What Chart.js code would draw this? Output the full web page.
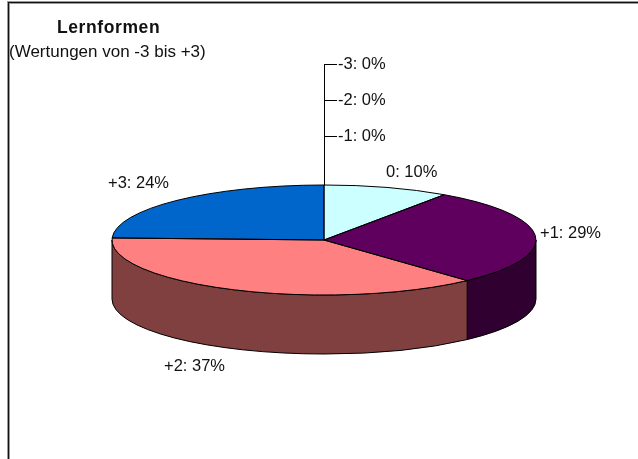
<!DOCTYPE html>
<html><head><meta charset="utf-8">
<style>html,body{margin:0;padding:0;background:#fff}canvas{display:block}</style>
<script src="https://cdn.jsdelivr.net/npm/chart.js@4/dist/chart.umd.min.js"></script>
</head><body>
<canvas id="c" width="638" height="459" style="width:638px;height:459px"></canvas>
<script>
const titleText = "Lernformen";
const subtitleText = "(Wertungen von -3 bis +3)";
const categories = ["-3", "-2", "-1", "0", "+1", "+2", "+3"];
const shares = [0, 0, 0, 9.6, 28.6, 37.4, 24.4];
const topColors = ["#000080", "#ff00ff", "#ffff00", "#ccffff", "#5f005f", "#ff8080", "#0066cc"];
const sideColors = ["#000040", "#800080", "#808000", "#668080", "#300030", "#804040", "#003366"];
const labelPos = [[338,64],[338,100],[338,136],[386,172],[540,233],[164,366],[108,183]];
const FLAT = 55 / 212, DEPTH = 59;

const pie3d = {
  id: 'pie3d',
  beforeDatasetsDraw(chart) {
    const ctx = chart.ctx, arcs = chart.getDatasetMeta(0).data;
    const {x: cx, y: cy, outerRadius: r} = arcs[0];
    const ry = r * FLAT;
    ctx.save();
    ctx.strokeStyle = '#000'; ctx.lineWidth = 1;
    arcs.forEach((a, i) => {
      const s = Math.max(a.startAngle, 0), e = Math.min(a.endAngle, Math.PI);
      if (e <= s) return;
      ctx.beginPath();
      ctx.ellipse(cx, cy, r, ry, 0, s, e);
      ctx.ellipse(cx, cy + DEPTH, r, ry, 0, e, s, true);
      ctx.closePath();
      ctx.fillStyle = sideColors[i];
      ctx.fill(); ctx.stroke();
    });
    ctx.restore();
    ctx.save();
    ctx.translate(cx, cy); ctx.scale(1, FLAT); ctx.translate(-cx, -cy);
  },
  afterDatasetsDraw(chart) {
    const ctx = chart.ctx, arcs = chart.getDatasetMeta(0).data;
    ctx.restore();
    const {x: cx, y: cy, outerRadius: r} = arcs[0];
    const ry = r * FLAT;
    ctx.save();
    ctx.strokeStyle = '#000'; ctx.lineWidth = 1;
    arcs.forEach(a => {
      if (a.endAngle - a.startAngle < 1e-6) return;
      ctx.beginPath();
      ctx.moveTo(cx, cy);
      ctx.ellipse(cx, cy, r, ry, 0, a.startAngle, a.endAngle);
      ctx.closePath();
      ctx.stroke();
    });
    ctx.beginPath();
    ctx.moveTo(cx + .5, cy - ry);
    ctx.lineTo(cx + .5, labelPos[0][1] + .5);
    labelPos.slice(0, 3).forEach(p => {
      ctx.moveTo(cx, p[1] + .5); ctx.lineTo(p[0] - 1, p[1] + .5);
    });
    ctx.stroke();
    // frame: top and left edges only, a black line with grey fringes
    ctx.fillStyle = '#999';
    ctx.fillRect(7, 1, 631, 3);
    ctx.fillRect(7, 1, 3, 458);
    ctx.fillStyle = '#111';
    ctx.fillRect(8, 2, 630, 1);
    ctx.fillRect(8, 2, 1, 457);
    // texts
    ctx.fillStyle = '#111';
    ctx.textBaseline = 'middle'; ctx.textAlign = 'left';
    ctx.font = '16.5px "Liberation Sans", Arial, sans-serif';
    categories.forEach((c, i) => ctx.fillText(c + ': ' + Math.round(shares[i]) + '%', labelPos[i][0], labelPos[i][1]));
    ctx.font = '17px "Liberation Sans", Arial, sans-serif';
    ctx.fillText(subtitleText, 9, 52);
    ctx.font = 'bold 17.5px "Liberation Sans", Arial, sans-serif';
    ctx.letterSpacing = '0.6px';
    ctx.fillText(titleText, 57, 28);
    ctx.restore();
  }
};

new Chart(document.getElementById('c'), {
  type: 'pie',
  data: { labels: categories, datasets: [{ data: shares, backgroundColor: topColors, borderWidth: 0, clip: false }] },
  options: {
    responsive: false, animation: false, devicePixelRatio: 1,
    radius: 212,
    layout: { padding: { left: 10, right: 0, top: 21, bottom: 0 } },
    plugins: { legend: { display: false }, tooltip: { enabled: false } }
  },
  plugins: [pie3d]
});
</script>
</body></html>
